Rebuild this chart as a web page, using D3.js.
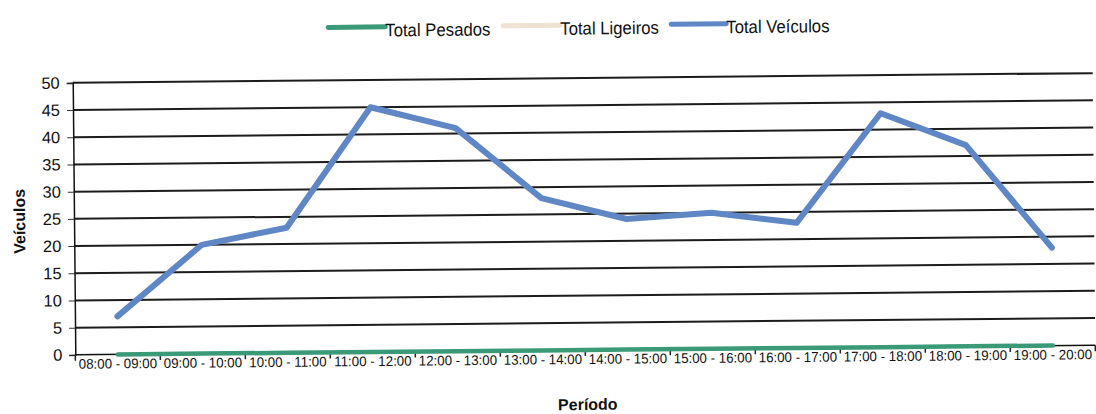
<!DOCTYPE html>
<html>
<head>
<meta charset="utf-8">
<script src="https://cdn.jsdelivr.net/npm/d3@7"></script>
<style>
  html, body { margin: 0; padding: 0; background: #fff; }
  svg { display: block; font-family: "Liberation Sans", Arial, sans-serif; }
  svg text { font-family: "Liberation Sans", Arial, sans-serif; }
</style>
</head>
<body>
<svg id="chart" width="1096" height="414"></svg>
<script>
// Hourly vehicle counts
const periods = ["08:00 - 09:00", "09:00 - 10:00", "10:00 - 11:00", "11:00 - 12:00",
  "12:00 - 13:00", "13:00 - 14:00", "14:00 - 15:00", "15:00 - 16:00",
  "16:00 - 17:00", "17:00 - 18:00", "18:00 - 19:00", "19:00 - 20:00"];
const totalPesados  = [0, 0, 0, 0, 0, 0, 0, 0, 0, 0, 0, 0];
const totalVeiculos = [7, 20, 23, 45, 41, 28, 24, 25, 23, 43, 37, 18];
const totalLigeiros = totalVeiculos.map((v, i) => v - totalPesados[i]);
const yTicks = [0, 5, 10, 15, 20, 25, 30, 35, 40, 45, 50];

const series = [
  { name: "Total Pesados",  values: totalPesados,  color: "#3a9a78" },
  { name: "Total Ligeiros", values: totalLigeiros, color: "#efe1d3" },
  { name: "Total Veículos", values: totalVeiculos, color: "#5f86c5" }
];

const FONT = "'Liberation Sans', Arial, sans-serif";

const svg = d3.select("#chart");
// the printed page sits at a slight tilt
const root = svg.append("g").attr("transform", "rotate(-0.545, 583, 214)");

const plot = { left: 74, right: 1094, top: 78, bottom: 350 };

const x = d3.scaleBand().domain(periods).range([plot.left, plot.right]).padding(0);
const y = d3.scaleLinear().domain([0, 50]).range([plot.bottom, plot.top]);

// gridlines
root.append("g")
  .selectAll("line")
  .data(yTicks.filter(d => d > 0))
  .join("line")
  .attr("x1", plot.left).attr("x2", plot.right)
  .attr("y1", d => y(d)).attr("y2", d => y(d))
  .attr("stroke", "#1c1c1c").attr("stroke-width", 2);

// y axis
const yAxis = root.append("g")
  .attr("transform", `translate(${plot.left},0)`)
  .call(d3.axisLeft(y).tickValues(yTicks).tickSize(6).tickPadding(7));
yAxis.attr("font-family", FONT);
yAxis.select(".domain").attr("stroke", "#111").attr("stroke-width", 1.5);
yAxis.selectAll(".tick line").attr("stroke", "#333").attr("stroke-width", 1);
yAxis.selectAll(".tick text")
  .attr("font-size", 16.5).attr("fill", "#111");

// x axis: ticks between categories
const xAxisG = root.append("g")
  .attr("transform", `translate(0,${plot.bottom})`)
  .attr("font-family", FONT);
xAxisG.append("line")
  .attr("x1", plot.left).attr("x2", plot.right)
  .attr("y1", 0).attr("y2", 0)
  .attr("stroke", "#111").attr("stroke-width", 1.5);
const boundaries = periods.map(p => x(p)).concat([x(periods[periods.length - 1]) + x.bandwidth()]);
xAxisG.selectAll("line.tk")
  .data(boundaries)
  .join("line")
  .attr("class", "tk")
  .attr("x1", d => d).attr("x2", d => d)
  .attr("y1", 0).attr("y2", 6)
  .attr("stroke", "#222").attr("stroke-width", 1.5);
xAxisG.selectAll("text")
  .data(periods)
  .join("text")
  .attr("transform", d => `translate(${x(d) + x.bandwidth() / 2},14) scale(0.95,1)`)
  .attr("text-anchor", "middle")
  .attr("font-size", 14)
  .attr("fill", "#111")
  .text(d => d);

// series lines
const line = d3.line()
  .x((d, i) => x(periods[i]) + x.bandwidth() / 2)
  .y(d => y(d));

root.append("g")
  .selectAll("path")
  .data(series)
  .join("path")
  .attr("d", s => line(s.values))
  .attr("fill", "none")
  .attr("stroke", s => s.color)
  .attr("stroke-width", s => s.name === "Total Veículos" ? 6 : 4.5)
  .attr("stroke-linejoin", "round")
  .attr("stroke-linecap", "round");

// axis titles
root.append("text")
  .attr("transform", "translate(25,216) rotate(-90)")
  .attr("text-anchor", "middle")
  .attr("font-family", FONT)
  .attr("font-size", 16).attr("font-weight", "bold").attr("fill", "#111")
  .text("Veículos");

root.append("text")
  .attr("x", 586).attr("y", 410)
  .attr("text-anchor", "middle")
  .attr("font-family", FONT)
  .attr("font-size", 16).attr("font-weight", "bold").attr("fill", "#111")
  .text("Período");

// legend
const legendItems = [
  { s: series[0], lx: 330, tx: 387 },
  { s: series[1], lx: 505, tx: 562 },
  { s: series[2], lx: 673, tx: 728 }
];
const legend = root.append("g").attr("font-family", FONT);
legend.selectAll("line")
  .data(legendItems)
  .join("line")
  .attr("x1", d => d.lx).attr("x2", d => d.tx)
  .attr("y1", 25).attr("y2", 25)
  .attr("stroke", d => d.s.color)
  .attr("stroke-width", 5)
  .attr("stroke-linecap", "round");
legend.selectAll("text")
  .data(legendItems)
  .join("text")
  .attr("transform", d => `translate(${d.tx},34.5) scale(0.93,1)`)
  .attr("font-size", 18)
  .attr("fill", "#111")
  .text(d => d.s.name);
</script>
</body>
</html>
